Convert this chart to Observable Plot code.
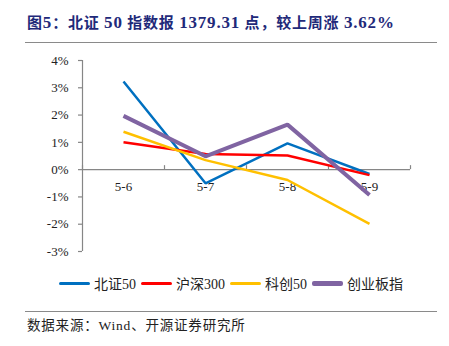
<!DOCTYPE html>
<html>
<head>
<meta charset="utf-8">
<script src="https://cdn.jsdelivr.net/npm/d3@7"></script>
<script src="https://cdn.jsdelivr.net/npm/@observablehq/plot@0.6"></script>
<style>
  html, body { margin: 0; padding: 0; background: #fff; }
  #wrap { position: relative; width: 449px; height: 346px; overflow: hidden; background: #fff; }
  #title { position: absolute; left: 27px; top: 12px; line-height: 22px; font-size: 15px; font-weight: bold;
    color: #1f2a7a; font-family: "Liberation Serif", "Noto Sans CJK SC", serif; white-space: nowrap; letter-spacing: 0.8px; }
  #title .lat { font-size: 17px; }
  .hr { position: absolute; left: 25px; width: 412px; height: 0; border-top: 1.5px solid #8a8a8a; }
  #chart { position: absolute; left: 0; top: 50px; }
  #legend { position: absolute; left: 59px; top: 273px; height: 20px; display: flex; align-items: center;
    font-family: "Liberation Serif", "Noto Sans CJK SC", serif; font-size: 14px; color: #222; white-space: nowrap; }
  .item { display: flex; align-items: center; margin-right: 5px; }
  .sw { display: inline-block; width: 31px; margin-right: 4px; border-radius: 2px; }
  #caption { position: absolute; left: 27px; top: 317px; line-height: 18px; font-size: 13.5px; color: #222;
    font-family: "Liberation Serif", "Noto Sans CJK SC", serif; white-space: nowrap; letter-spacing: 0.8px; }
</style>
</head>
<body>
<div id="wrap">
  <div id="title"></div>
  <div class="hr" style="top:42px"></div>
  <div id="chart"></div>
  <div id="legend"></div>
  <div class="hr" style="top:311px"></div>
  <div id="caption"></div>
</div>
<script>
const titleText = "图5：北证 50 指数报 1379.31 点，较上周涨 3.62%";
const captionText = "数据来源：Wind、开源证券研究所";
const dates = ["5-6", "5-7", "5-8", "5-9"];
const seriesNames = ["北证50", "沪深300", "科创50", "创业板指"];
const bz50 = [3.23, -0.50, 0.96, -0.16];
const hs300 = [1.00, 0.57, 0.52, -0.20];
const kc50 = [1.39, 0.35, -0.38, -1.99];
const cyb = [1.97, 0.49, 1.65, -0.93];
const yTicks = [-3, -2, -1, 0, 1, 2, 3, 4];
const colors = ["#0070C0", "#FF0000", "#FFC000", "#8064A2"];
const widths = [2.5, 2.5, 2.5, 4];

const allSeries = [bz50, hs300, kc50, cyb];
const rows = [];
allSeries.forEach((vals, s) => vals.forEach((v, i) => rows.push({ series: seriesNames[s], x: i + 0.5, y: v })));
const boundaries = d3.range(dates.length + 1);
const axisColor = "#868686";
const serif = "Liberation Serif, Noto Sans CJK SC, serif";

const chart = Plot.plot({
  width: 449,
  height: 215,
  marginTop: 10,
  marginBottom: 14,
  marginLeft: 82,
  marginRight: 39,
  style: { fontFamily: serif, background: "transparent", overflow: "visible" },
  x: { type: "linear", domain: [0, dates.length], axis: null },
  y: { domain: [-3, 4], axis: null },
  marks: [
    Plot.axisY(yTicks, { anchor: "left", label: null, tickSize: 0, tickPadding: 14, tickFormat: d => d + "%", fontSize: 13, fill: "#222", fontFamily: serif }),
    Plot.ruleX([0], { y1: -3, y2: 4, stroke: axisColor, strokeWidth: 1.2 }),
    Plot.ruleY(yTicks, { x1: 0, x2: 0, insetLeft: -4, stroke: axisColor, strokeWidth: 1.2 }),
    Plot.ruleY([0], { x1: 0, x2: dates.length, stroke: axisColor, strokeWidth: 1.2 }),
    Plot.ruleX(boundaries, { y1: 0, y2: 0, insetTop: -4, stroke: axisColor, strokeWidth: 1.2 }),
    Plot.text(dates, { x: (d, i) => i + 0.5, y: () => 0, dy: 17, text: d => d, fontSize: 13, fill: "#222", fontFamily: serif }),
    ...seriesNames.map((name, s) => Plot.line(rows.filter(r => r.series === name), {
      x: "x", y: "y", stroke: colors[s], strokeWidth: widths[s], strokeLinejoin: "miter", strokeLinecap: "butt"
    }))
  ]
});
document.getElementById("chart").appendChild(chart);

const titleEl = document.getElementById("title");
titleText.split(/([0-9.%]+)/).forEach((part, k) => {
  if (!part) return;
  const sp = document.createElement("span");
  sp.textContent = part;
  if (k % 2 === 1) sp.className = "lat";
  titleEl.appendChild(sp);
});
document.getElementById("caption").textContent = captionText;

const legend = document.getElementById("legend");
seriesNames.forEach((name, s) => {
  const item = document.createElement("span");
  item.className = "item";
  const sw = document.createElement("span");
  sw.className = "sw";
  sw.style.background = colors[s];
  sw.style.height = (s === 3 ? 5 : 3) + "px";
  item.appendChild(sw);
  const t = document.createElement("span");
  t.textContent = name;
  item.appendChild(t);
  legend.appendChild(item);
});
</script>
</body>
</html>
